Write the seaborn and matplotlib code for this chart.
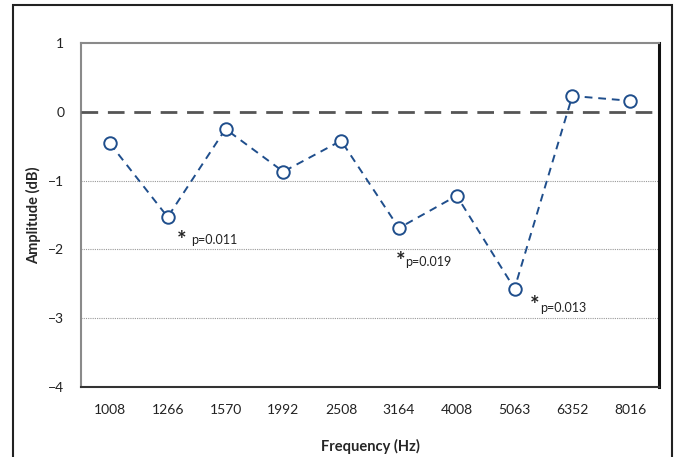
import numpy as np
import pandas as pd
import matplotlib.pyplot as plt
import seaborn as sns
from matplotlib.patches import Rectangle

# Data
frequencies = ["1008", "1266", "1570", "1992", "2508", "3164", "4008", "5063", "6352", "8016"]
amplitude = [-0.46, -1.53, -0.25, -0.87, -0.42, -1.69, -1.22, -2.57, 0.23, 0.16]
sig_freqs = ["1266", "3164", "5063"]
sig_labels = ["p=0.011", "p=0.019", "p=0.013"]

sns.set_style("white")
plt.rcParams['font.family'] = ['Lato', 'DejaVu Sans']

data = pd.DataFrame({'Frequency': frequencies, 'Amplitude': amplitude})
data['pos'] = np.arange(len(frequencies))

fig = plt.figure(figsize=(6.77, 4.57), dpi=100)
ax = fig.add_axes([81 / 677, 1 - 387 / 457, 578 / 677, 344 / 457])

blue = '#1f4e8c'
sns.lineplot(x='pos', y='Amplitude', data=data, ax=ax, color=blue,
             linestyle=(0, (4, 3)), linewidth=1.4, marker='o', markersize=9,
             markerfacecolor='white', markeredgecolor=blue, markeredgewidth=1.4,
             zorder=5)

# reference line at zero
ax.axhline(0, color='#555555', linewidth=2, linestyle=(0, (6, 3.5)), zorder=3)
# dotted grid lines
for yv in [-1, -2, -3]:
    ax.axhline(yv, color='#999999', linewidth=0.8, linestyle=(0, (1, 1)), zorder=1)

ax.set_xlim(-0.5, len(frequencies) - 0.5)
ax.set_ylim(-4, 1)
ax.set_xticks(data['pos'])
ax.set_xticklabels(frequencies)
ax.set_yticks([1, 0, -1, -2, -3, -4])
ax.tick_params(axis='both', length=0, labelsize=10, colors='#222222')
ax.tick_params(axis='x', pad=12)
ax.tick_params(axis='y', pad=12)

ax.set_xlabel('Frequency (Hz)', fontsize=10.5, fontweight='bold', labelpad=17)
ax.set_ylabel('Amplitude (dB)', fontsize=10.5, fontweight='bold', labelpad=5)

for side in ['top', 'left']:
    ax.spines[side].set_color('#8a8a8a')
    ax.spines[side].set_linewidth(1.5)
ax.spines['bottom'].set_color('#333333')
ax.spines['bottom'].set_linewidth(1.5)
ax.spines['right'].set_color('#111111')
ax.spines['right'].set_linewidth(2.2)

# significance markers (offsets in pixels: asterisk, then label)
star_offsets = [(14, -17), (2, -27), (20, -11)]
label_offsets = [(23, -23), (6, -34), (26, -19)]
for f, lab, so, lo in zip(sig_freqs, sig_labels, star_offsets, label_offsets):
    i = frequencies.index(f)
    y = amplitude[i]
    ax.annotate('*', xy=(i, y), xytext=(so[0], so[1] - 6), textcoords='offset pixels',
                fontsize=16, fontweight='bold', ha='center', va='center')
    ax.annotate(lab, xy=(i, y), xytext=lo, textcoords='offset pixels',
                fontsize=9, ha='left', va='center', color='#222222')

# outer chart border
fig.patches.append(Rectangle((13 / 677, -0.05), 659 / 677, 1 - 5 / 457 + 0.05,
                             transform=fig.transFigure, fill=False,
                             edgecolor='#222222', linewidth=1.5))

fig.savefig('out.png', dpi=100)
